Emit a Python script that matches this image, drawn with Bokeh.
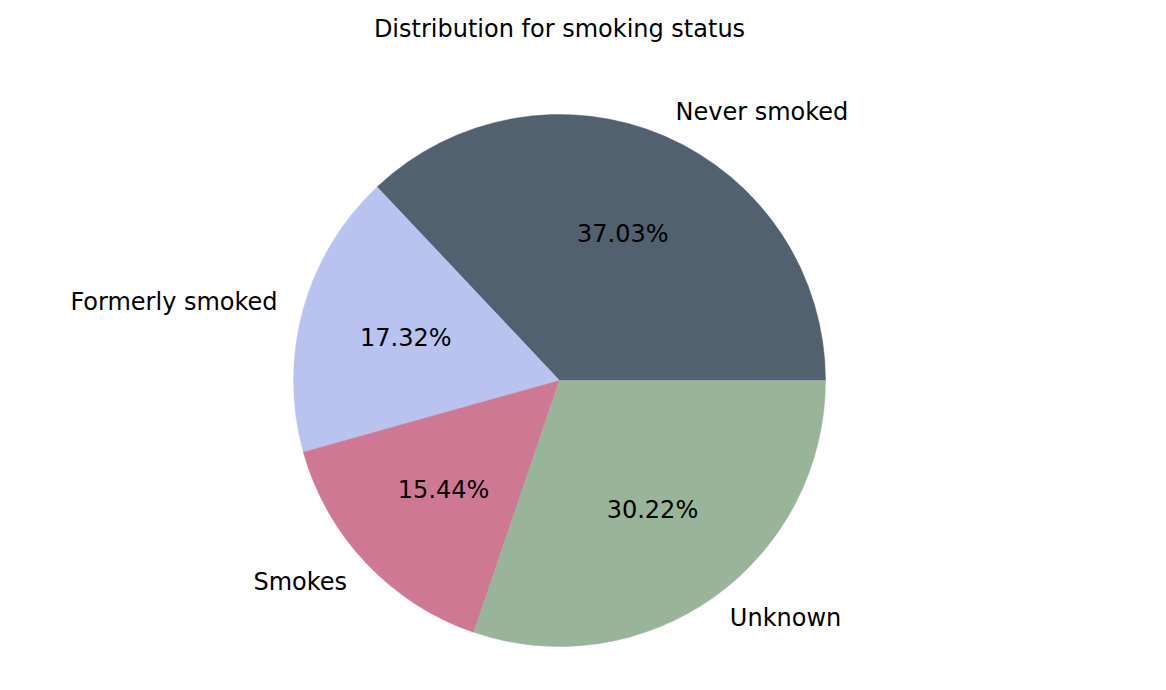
import math
from bokeh.plotting import figure
from bokeh.models import Range1d, ColumnDataSource
from bokeh.core.properties import value
from bokeh.embed import file_html
from bokeh.resources import INLINE

# Data
categories = ["Never smoked", "Formerly smoked", "Smokes", "Unknown"]
percentages = [37.03, 17.32, 15.44, 30.22]
colors = ["#526170", "#B8C4EF", "#CF7893", "#98B599"]
title_text = "Distribution for smoking status"

W, H = 1150, 674
cx, cy = 559, 380  # pie centre in figure pixels (from top-left)
R = 266

p = figure(width=W, height=H, output_backend="svg", toolbar_location=None,
           x_range=Range1d(-cx, W - cx), y_range=Range1d(-(H - cy), cy),
           min_border=0, outline_line_color=None)
p.axis.visible = False
p.grid.visible = False
p.background_fill_color = "white"
p.border_fill_color = "white"

total = sum(percentages)
starts, ends, lx, ly, px_, py_, aligns, pct_txt = [], [], [], [], [], [], [], []
acc = 0.0
for v in percentages:
    a0 = 2 * math.pi * acc / total
    acc += v
    a1 = 2 * math.pi * acc / total
    starts.append(a0)
    ends.append(a1)
    mid = (a0 + a1) / 2
    x, y = math.cos(mid), math.sin(mid)
    lx.append(1.1 * R * x)
    ly.append(1.1 * R * y)
    aligns.append("left" if x > 0 else "right")
    px_.append(0.6 * R * x)
    py_.append(0.6 * R * y)
    pct_txt.append(f"{v:.2f}%")

src = ColumnDataSource(dict(start=starts, end=ends, color=colors,
                            lx=lx, ly=ly, align=aligns, label=categories,
                            px=px_, py=py_, pct=pct_txt))

p.wedge(x=0, y=0, radius=R, start_angle="start", end_angle="end",
        fill_color="color", line_color="color", line_width=0.5, source=src)

font = value("DejaVu Sans")
p.text(x="lx", y="ly", text="label", text_align="align", text_baseline="middle",
       text_font=font, text_font_size="24px", text_color="black", source=src)
p.text(x="px", y="py", text="pct", text_align="center", text_baseline="middle",
       text_font=font, text_font_size="24px", text_color="black", source=src)

p.text(x=[0], y=[cy - 28], text=[title_text], text_align="center",
       text_baseline="middle", text_font=font, text_font_size="24px",
       text_color="black")

open("out.html", "w").write(file_html(p, INLINE))
